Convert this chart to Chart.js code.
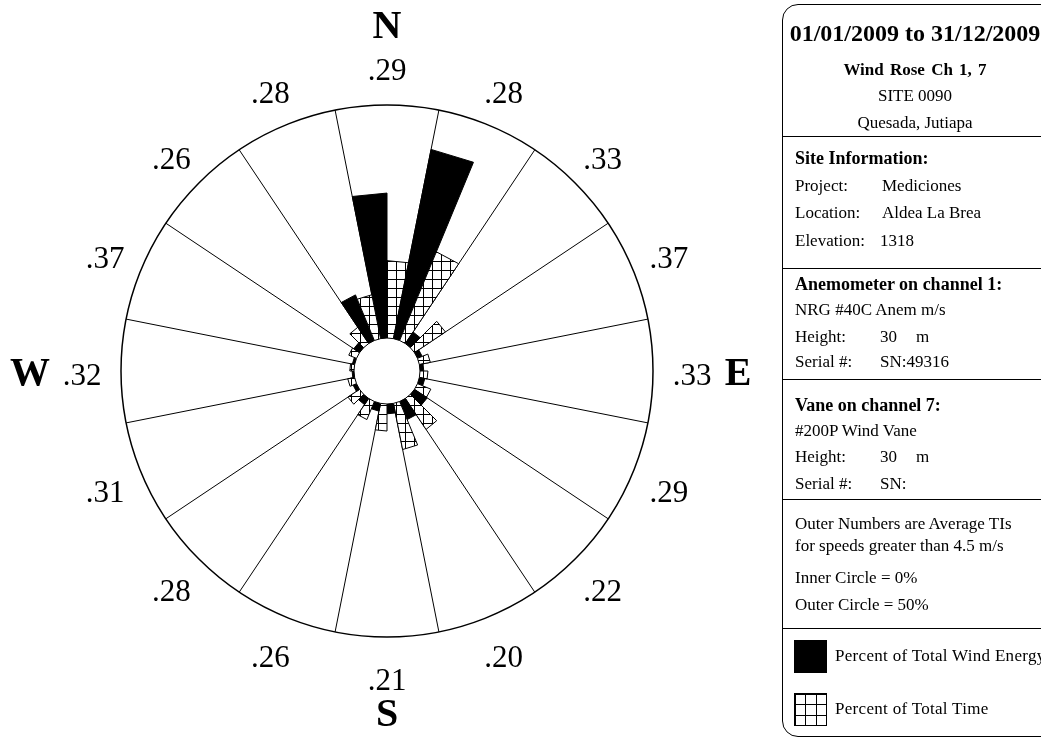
<!DOCTYPE html>
<html>
<head>
<meta charset="utf-8">
<script src="https://cdn.jsdelivr.net/npm/chart.js@4.4.1/dist/chart.umd.min.js"></script>
<style>
  html, body { margin: 0; padding: 0; width: 1041px; height: 739px; overflow: hidden; background: #fff; }
  #chart { position: absolute; left: 0; top: 0; }
  .t { position: absolute; white-space: nowrap; font-family: "Liberation Serif", "Times New Roman", serif; font-size: 17px; line-height: 20px; height: 20px; color: #000; }
  .b { font-weight: bold; font-size: 18px; }
  .c { transform: translateX(-50%); }
  .sep { position: absolute; left: 782px; width: 270px; height: 0; border-top: 1.5px solid #000; }
  #panel { position: absolute; left: 782px; top: 4px; width: 300px; height: 733px; border: 1.5px solid #000; border-radius: 16px; box-sizing: border-box; }
  .icon { position: absolute; left: 794px; width: 33px; height: 33px; box-sizing: border-box; border: 1px solid #000; }
</style>
</head>
<body>
<canvas id="chart" width="1041" height="739"></canvas>

<div id="panel"></div>
<div class="t b c" style="left:915px; top:21px; font-size:24px; line-height:24px; height:24px;">01/01/2009 to 31/12/2009</div>
<div class="t b c" style="left:915px; top:60px; font-size:17px; word-spacing:2px;">Wind Rose Ch 1, 7</div>
<div class="t c" style="left:915px; top:86px;">SITE 0090</div>
<div class="t c" style="left:915px; top:113px;">Quesada, Jutiapa</div>
<div class="sep" style="top:136px;"></div>

<div class="t b" style="left:795px; top:148px;">Site Information:</div>
<div class="t" style="left:795px; top:176px;">Project:</div><div class="t" style="left:882px; top:176px;">Mediciones</div>
<div class="t" style="left:795px; top:203px;">Location:</div><div class="t" style="left:882px; top:203px;">Aldea La Brea</div>
<div class="t" style="left:795px; top:231px;">Elevation:</div><div class="t" style="left:880px; top:231px;">1318</div>
<div class="sep" style="top:268px;"></div>

<div class="t b" style="left:795px; top:274px;">Anemometer on channel 1:</div>
<div class="t" style="left:795px; top:300px;">NRG #40C Anem m/s</div>
<div class="t" style="left:795px; top:327px;">Height:</div><div class="t" style="left:880px; top:327px;">30</div><div class="t" style="left:916px; top:327px;">m</div>
<div class="t" style="left:795px; top:352px;">Serial #:</div><div class="t" style="left:880px; top:352px;">SN:49316</div>
<div class="sep" style="top:379px;"></div>

<div class="t b" style="left:795px; top:395px;">Vane on channel 7:</div>
<div class="t" style="left:795px; top:421px;">#200P Wind Vane</div>
<div class="t" style="left:795px; top:447px;">Height:</div><div class="t" style="left:880px; top:447px;">30</div><div class="t" style="left:916px; top:447px;">m</div>
<div class="t" style="left:795px; top:474px;">Serial #:</div><div class="t" style="left:880px; top:474px;">SN:</div>
<div class="sep" style="top:499px;"></div>

<div class="t" style="left:795px; top:514px;">Outer Numbers are Average TIs</div>
<div class="t" style="left:795px; top:536px;">for speeds greater than 4.5 m/s</div>
<div class="t" style="left:795px; top:568px;">Inner Circle = 0%</div>
<div class="t" style="left:795px; top:595px;">Outer Circle = 50%</div>
<div class="sep" style="top:628px;"></div>

<div class="icon" style="top:640px; background:#000;"></div>
<div class="t" style="left:835px; top:646px; letter-spacing:0.3px;">Percent of Total Wind Energy</div>
<div class="icon" style="top:693px; background-image: repeating-linear-gradient(to right, #000 0 1px, transparent 1px 10.3px), repeating-linear-gradient(to bottom, #000 0 1px, transparent 1px 10.3px);"></div>
<div class="t" style="left:835px; top:699px; letter-spacing:0.3px;">Percent of Total Time</div>

<script>
// ---- data ----
const directions = ['N','NNE','NE','ENE','E','ESE','SE','SSE','S','SSW','SW','WSW','W','WNW','NW','NNW'];
const energyPct  = [31.1, 41.4, 3.0, 1.1, 0.8, 1.2, 3.3, 4.2, 2.1, 1.7, 1.6, 0.8, 0.4, 0.5, 1.5, 10.6];
const timePct    = [16.6, 20.6, 8.0, 2.4, 1.7, 3.1, 8.0, 10.1, 5.8, 4.2, 3.0, 1.5, 0.9, 1.8, 4.2, 9.6];
const avgTI      = ['.29','.28','.33','.37','.33','.29','.22','.20','.21','.26','.28','.31','.32','.37','.26','.28'];
const compassLabels = ['N','E','S','W'];
const innerCirclePct = 0;
const outerCirclePct = 50;

// ---- scale / label placement settings ----
const HOLE_FRACTION = 33 / 266;           // inner circle radius relative to outer circle
const R_MIN = innerCirclePct - (outerCirclePct - innerCirclePct) * HOLE_FRACTION / (1 - HOLE_FRACTION);
const TI_DIST = 305;
const COMPASS_DIST = [347, 351, 341, 357];

function makeHatch() {
  const n = 9;
  const c = document.createElement('canvas');
  c.width = n; c.height = n;
  const g = c.getContext('2d');
  g.fillStyle = '#fff'; g.fillRect(0, 0, n, n);
  g.fillStyle = '#000';
  g.fillRect(0, 0, n, 1);
  g.fillRect(0, 0, 1, n);
  return g.createPattern(c, 'repeat');
}
const hatch = makeHatch();

// each direction = energy half (counter-clockwise) + time half (clockwise)
const labels = [];
const values = [];
const fills = [];
directions.forEach((d, i) => {
  labels.push(d + ' energy'); values.push(energyPct[i]); fills.push('#000');
  labels.push(d + ' time');   values.push(timePct[i]);   fills.push(hatch);
});

const roseDecor = {
  id: 'roseDecor',
  afterDatasetsDraw(chart) {
    const s = chart.scales.r;
    const ctx = chart.ctx;
    const r0 = s.getDistanceFromCenterForValue(innerCirclePct);
    ctx.save();
    ctx.beginPath();
    ctx.arc(s.xCenter, s.yCenter, r0, 0, Math.PI * 2);
    ctx.fillStyle = '#fff';
    ctx.fill();
    ctx.lineWidth = 1;
    ctx.strokeStyle = '#000';
    ctx.stroke();

    ctx.fillStyle = '#000';
    ctx.textAlign = 'center';
    ctx.textBaseline = 'middle';
    ctx.font = '31px "Liberation Serif", "Times New Roman", serif';
    avgTI.forEach((t, i) => {
      const p = s.getPointPosition(2 * i + 1, TI_DIST);
      ctx.fillText(t, p.x, p.y + 6);
    });
    ctx.font = 'bold 40px "Liberation Serif", "Times New Roman", serif';
    compassLabels.forEach((t, k) => {
      const p = s.getPointPosition(8 * k + 1, COMPASS_DIST[k]);
      ctx.fillText(t, p.x, p.y + 4);
    });
    ctx.restore();
  }
};

new Chart(document.getElementById('chart'), {
  type: 'polarArea',
  data: {
    labels: labels,
    datasets: [{
      data: values,
      backgroundColor: fills,
      borderColor: '#000',
      borderWidth: 1,
      circular: false
    }]
  },
  options: {
    responsive: false,
    animation: false,
    events: [],
    layout: { padding: { left: 121, right: 388, top: 105, bottom: 102 } },
    elements: { arc: { circular: false, borderColor: '#000', borderWidth: 1 } },
    plugins: { legend: { display: false }, tooltip: { enabled: false }, title: { display: false } },
    scales: {
      r: {
        min: R_MIN,
        max: outerCirclePct,
        startAngle: -360 / labels.length,
        afterBuildTicks: (scale) => { scale.ticks = [{ value: R_MIN }, { value: outerCirclePct }]; },
        ticks: { display: false },
        pointLabels: { display: false },
        grid: {
          circular: true,
          color: '#000',
          lineWidth: (c) => (c.tick && c.tick.value === outerCirclePct ? 1.5 : 0)
        },
        angleLines: {
          display: true,
          color: '#000',
          lineWidth: (c) => (c.index % 2 === 0 ? 1 : 0)
        }
      }
    }
  },
  plugins: [roseDecor]
});
</script>
</body>
</html>
